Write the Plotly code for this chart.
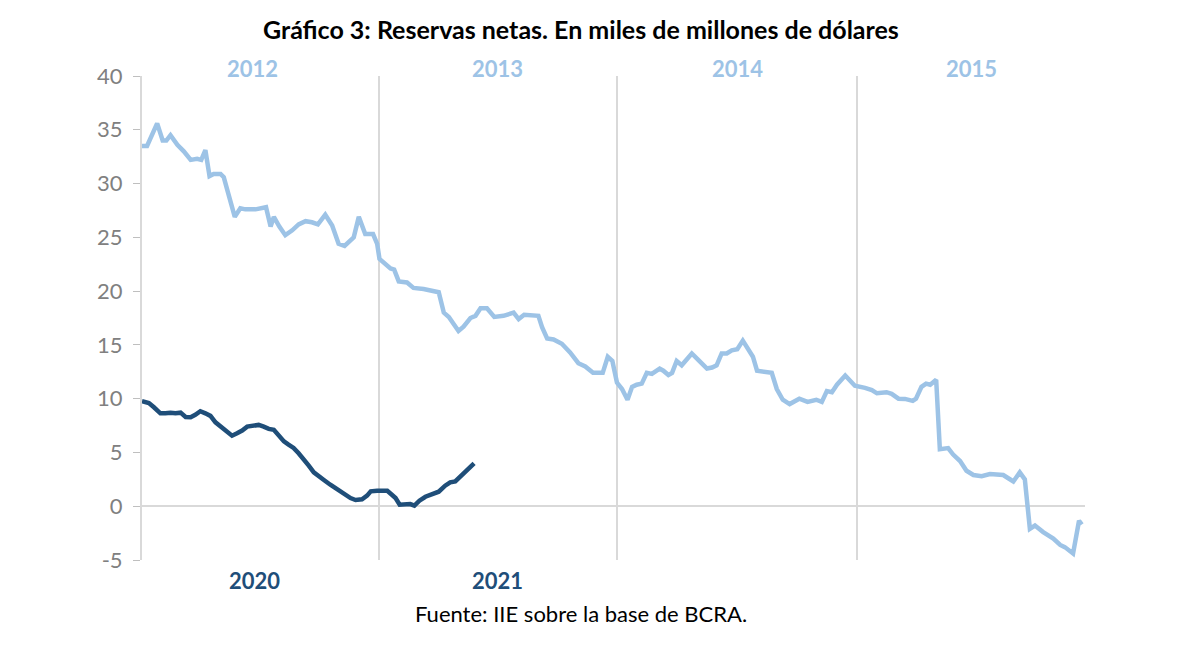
import plotly.graph_objects as go

# Week index (0 = start of first year on the axis) and values, in billions of USD
light_weeks = [0, 1.1, 3.3, 4.5, 5.3, 6.2, 7.7, 9.1, 10.6, 12.0, 12.9, 13.8, 14.7, 15.6, 17.1, 17.8,
               18.5, 19.3, 20.2, 21.4, 22.5, 24.7, 26.5, 27.0, 28.0, 28.7, 29.9, 31.2, 32.7, 34.1,
               35.6, 37.0, 38.3, 39.9, 41.4, 42.8, 44.1, 46.1, 47.2, 48.6, 50.3, 51.2, 51.7, 53.0,
               54.1, 54.9, 55.9, 57.7, 59.1, 61.3, 63.1, 64.6, 65.7, 66.8, 68.9, 70.0, 71.5, 72.6,
               73.7, 75.1, 76.7, 78.7, 80.9, 82.0, 83.2, 84.9, 86.3, 87.1, 88.2, 89.6, 91.4, 93.2,
               95.0, 96.5, 98.2, 100.3, 101.4, 102.4, 103.4, 104.5, 105.7, 106.7, 107.7, 108.8,
               109.9, 111.0, 112.7, 113.5, 114.6, 115.4, 116.4, 117.5, 119.7, 121.1, 123.0, 124.1,
               125.1, 126.2, 127.3, 128.4, 129.6, 130.8, 132.0, 133.0, 133.9, 135.3, 137.1, 138.2,
               139.5, 141.0, 143.1, 144.9, 146.8, 148.0, 149.1, 150.2, 151.3, 153.1, 154.2, 155.2,
               157.4, 158.9, 160.0, 162.1, 163.2, 164.7, 166.1, 167.8, 168.5, 169.7, 170.7, 171.6,
               172.9, 173.7, 175.5, 176.6, 178.1, 179.5, 181.0, 182.8, 184.6, 187.5, 188.6, 189.7,
               191.1, 192.2, 193.3, 194.4, 196.2, 198.4, 199.9, 200.9, 202.7, 204.0, 204.6]
light_values = [33.5, 33.5, 35.6, 34.0, 34.0, 34.5, 33.6, 33.0, 32.2, 32.3, 32.2, 33.1, 30.7, 30.9,
                30.9, 30.6, 29.5, 28.1, 26.9, 27.7, 27.6, 27.6, 27.7, 27.8, 26.0, 26.9, 26.0, 25.2,
                25.65, 26.2, 26.5, 26.4, 26.2, 27.1, 26.1, 24.4, 24.2, 25.0, 26.9, 25.3, 25.3, 24.4,
                23.0, 22.5, 22.1, 22.0, 20.9, 20.8, 20.3, 20.2, 20.0, 19.9, 18.0, 17.6, 16.3, 16.7,
                17.5, 17.7, 18.4, 18.4, 17.6, 17.7, 18.0, 17.4, 17.8, 17.7, 17.7, 16.65, 15.6, 15.5,
                15.1, 14.3, 13.3, 13.0, 12.4, 12.4, 13.9, 13.5, 11.5, 10.9, 9.9, 11.1, 11.3, 11.4,
                12.4, 12.3, 12.8, 12.6, 12.2, 12.4, 13.5, 13.1, 14.2, 13.6, 12.8, 12.9, 13.1, 14.2,
                14.2, 14.5, 14.6, 15.4, 14.6, 13.9, 12.6, 12.5, 12.4, 10.9, 9.9, 9.5, 10.0, 9.7,
                9.9, 9.7, 10.7, 10.6, 11.3, 12.15, 11.6, 11.2, 11.0, 10.8, 10.5, 10.6, 10.45, 10.0,
                9.98, 9.8, 10.0, 11.1, 11.4, 11.3, 11.75, 5.3, 5.4, 4.8, 4.2, 3.3, 2.9, 2.8, 3.0,
                2.9, 2.6, 2.3, 3.15, 2.5, -2.1, -1.8, -2.4, -3.0, -3.6, -3.8, -4.4, -1.35, -1.7]

dark_weeks = [0, 1.5, 2.6, 4.0, 5.1, 6.2, 7.3, 8.4, 9.5, 10.6, 11.6, 12.7, 13.8, 14.9, 16.0, 17.4,
              18.5, 19.6, 20.7, 21.8, 22.9, 24.0, 25.4, 26.5, 27.6, 28.7, 29.8, 30.9, 31.9, 33.0,
              34.1, 35.2, 36.3, 37.4, 38.5, 39.6, 41.0, 42.5, 43.9, 45.4, 46.5, 47.9, 49.0, 49.8,
              51.2, 52.5, 53.4, 54.4, 55.2, 56.1, 57.3, 58.4, 59.3, 60.4, 61.7, 63.1, 64.6, 66.0,
              67.1, 68.2, 69.3, 70.4, 71.5, 72.3]
dark_values = [9.76, 9.6, 9.2, 8.64, 8.64, 8.7, 8.64, 8.7, 8.3, 8.27, 8.5, 8.83, 8.64, 8.4, 7.8,
               7.34, 6.96, 6.56, 6.78, 7.03, 7.4, 7.5, 7.56, 7.4, 7.19, 7.1, 6.56, 6.03, 5.73, 5.42,
               4.92, 4.39, 3.77, 3.15, 2.75, 2.44, 2.0, 1.54, 1.14, 0.76, 0.58, 0.64, 0.98, 1.38,
               1.44, 1.38, 1.44, 1.07, 0.76, 0.14, 0.2, 0.2, 0.05, 0.51, 0.88, 1.07, 1.35, 1.91,
               2.22, 2.31, 2.75, 3.31, 3.68, 3.99]

year_bounds = [51.5, 103.5, 155.7]
top_years = ["2012", "2013", "2014", "2015"]
top_year_pos = [24.0, 77.5, 129.6, 180.5]
bottom_years = ["2020", "2021"]
bottom_year_pos = [24.5, 77.5]
y_ticks = [-5, 0, 5, 10, 15, 20, 25, 30, 35, 40]
y_tick_text = ["-5", "0", "5", "10", "15", "20", "25", "30", "35", "40"]

LIGHT = "#9DC3E6"
DARK = "#1F4E79"
FONT = "Lato"

L, R, T, B = 141.5, 1085, 76, 560  # plot area in pixels


def px_x(px):
    return (px - L) / (R - L)


def px_y(py):
    return (B - py) / (B - T)


fig = go.Figure()
fig.add_trace(go.Scatter(x=light_weeks, y=light_values, mode="lines",
                         line=dict(color=LIGHT, width=4.5), showlegend=False))
fig.add_trace(go.Scatter(x=dark_weeks, y=dark_values, mode="lines",
                         line=dict(color=DARK, width=4.5), showlegend=False))

annotations = []
for t, p in zip(top_years, top_year_pos):
    annotations.append(dict(x=p, y=px_y(68), xref="x", yref="paper", yanchor="middle",
                            text=f"<b>{t}</b>", showarrow=False,
                            font=dict(family=FONT, size=22, color=LIGHT)))
for t, p in zip(bottom_years, bottom_year_pos):
    annotations.append(dict(x=p, y=px_y(580), xref="x", yref="paper", yanchor="middle",
                            text=f"<b>{t}</b>", showarrow=False,
                            font=dict(family=FONT, size=22, color=DARK)))
annotations.append(dict(x=px_x(581), y=px_y(613), xref="paper", yref="paper", yanchor="middle",
                        text="Fuente: IIE sobre la base de BCRA.", showarrow=False,
                        font=dict(family=FONT, size=22, color="#000000")))
annotations.append(dict(x=px_x(581), y=px_y(29), xref="paper", yref="paper", yanchor="middle",
                        text="<b>Gráfico 3: Reservas netas. En miles de millones de dólares</b>",
                        showarrow=False, font=dict(family=FONT, size=25, color="#000000")))

fig.update_layout(
    width=1200, height=661,
    margin=dict(l=L, r=1200 - R, t=T, b=661 - B),
    paper_bgcolor="white", plot_bgcolor="white",
    annotations=annotations,
    xaxis=dict(range=[0, 205.3], tickvals=year_bounds, showticklabels=False, ticks="",
               showgrid=True, gridcolor="#D9D9D9", gridwidth=2, zeroline=False, showline=False,
               fixedrange=True),
    yaxis=dict(range=[-5, 40], tickvals=y_ticks, ticktext=y_tick_text, ticks="outside",
               ticklen=7, tickcolor="#BFBFBF", tickwidth=1, showline=True, linecolor="#D9D9D9",
               linewidth=2, showgrid=False, zeroline=True, zerolinecolor="#D9D9D9",
               zerolinewidth=2, tickfont=dict(family=FONT, size=22, color="#808080"),
               ticklabelstandoff=6, fixedrange=True),
)

fig.write_html("out.html")
